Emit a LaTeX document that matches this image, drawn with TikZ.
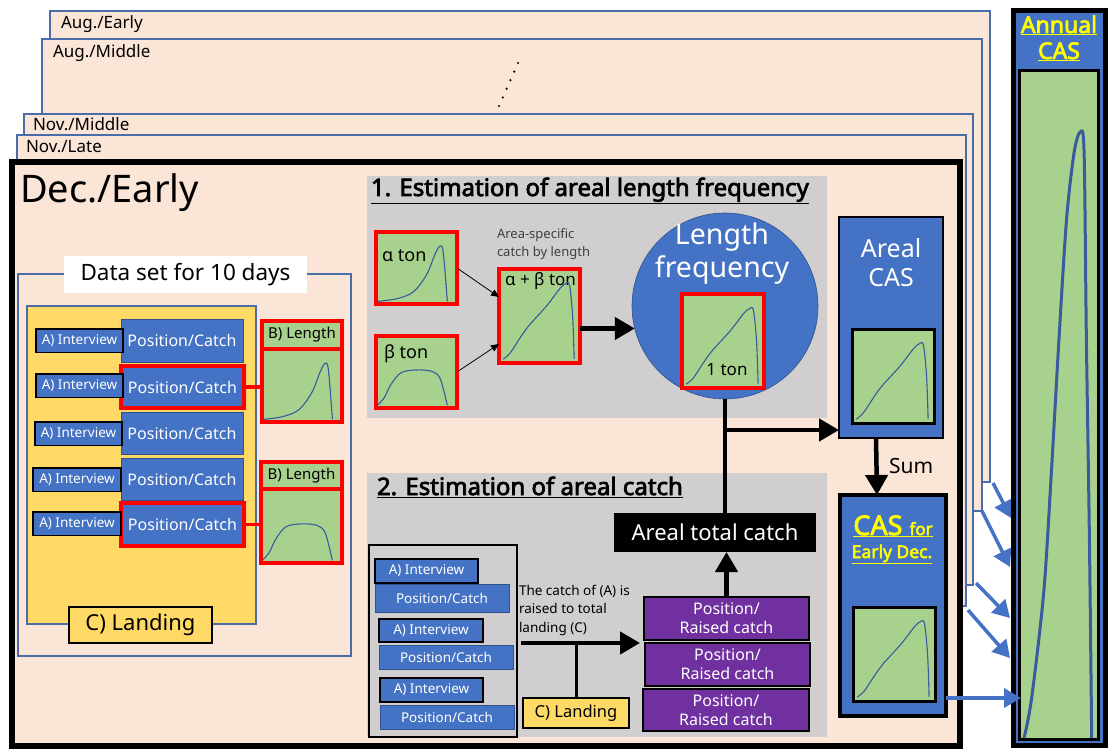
\documentclass[tikz,border=0pt]{standalone}
\usepackage{fontspec}
\setmainfont{Noto Sans}
\newfontfamily\bfam{Noto Sans}[FakeBold=3]
\usetikzlibrary{arrows.meta}
\definecolor{peach}{HTML}{FBE5D6}
\definecolor{fblue}{HTML}{4A6CA8}
\definecolor{nblue}{HTML}{4472C4}
\definecolor{dblue}{HTML}{2F528F}
\definecolor{sgray}{HTML}{D0CECE}
\definecolor{lgreen}{HTML}{A9D18E}
\definecolor{yel}{HTML}{FFD966}
\definecolor{purp}{HTML}{7030A0}
\definecolor{crvc}{HTML}{3A5A9E}
\definecolor{ytxt}{HTML}{FFFF00}
\newcommand\fsz[2]{\fontsize{#1pt}{#2pt}\selectfont}
\tikzset{
  every node/.style={inner sep=0pt,outer sep=0pt},
  wh/.style 2 args={minimum width=#1,minimum height=#2,anchor=north west},
  frame/.style={fill=peach,draw=fblue,line width=1.2pt},
  flab/.style={anchor=base west,font=\fsz{17}{20}},
  decf/.style={fill=peach,draw=black,line width=6pt},
  gbox/.style={fill=lgreen},
  redb/.style={draw=red,line width=3.5pt},
  blkb/.style={draw=black,line width=3pt},
  intv/.style={fill=nblue,draw=black,line width=1.5pt,text=white},
  pcb/.style={fill=nblue,draw=dblue,line width=1pt,text=white},
  purpb/.style={fill=purp,draw=black,line width=1.2pt,text=white,align=center,font=\fsz{16}{19}},
  crv/.style={draw=crvc,line width=1.1pt},
  thk/.style={line width=4.5pt,-{Triangle[length=20pt,width=22pt]}},
  thn/.style={line width=0.8pt,-{Triangle[length=8pt,width=7pt]}},
  barr/.style={draw=nblue,line width=3.5pt,-{Triangle[length=17pt,width=19pt]}},
  redl/.style={draw=red,line width=3.5pt},
}
% curve macros: bottom-left x, bottom-left y, width, height
\newcommand\crvskew[4]{\begin{scope}[shift={(#1,#2)},x=#3pt,y=#4pt]
 \draw[crv] plot[smooth,tension=0.55] coordinates{(0.0,0.01)(0.25,0.05)(0.46,0.15)(0.63,0.4)(0.74,0.7)(0.8,0.82)(0.84,0.78)(0.87,0.45)(0.9,0.01)};\end{scope}}
\newcommand\crvflat[4]{\begin{scope}[shift={(#1,#2)},x=#3pt,y=#4pt]
 \draw[crv] plot[smooth,tension=0.55] coordinates{(0.0,0.02)(0.08,0.12)(0.17,0.32)(0.3,0.49)(0.5,0.53)(0.7,0.51)(0.8,0.42)(0.86,0.2)(0.9,0.01)};\end{scope}}
\newcommand\crvlin[4]{\begin{scope}[shift={(#1,#2)},x=#3pt,y=#4pt]
 \draw[crv] plot[smooth,tension=0.55] coordinates{(0.03,0.02)(0.12,0.09)(0.22,0.22)(0.35,0.38)(0.59,0.61)(0.76,0.8)(0.84,0.86)(0.89,0.84)(0.93,0.5)(0.95,0.02)};\end{scope}}
\newcommand\crvann[4]{\begin{scope}[shift={(#1,#2)},x=#3pt,y=#4pt]
 \draw[draw=crvc,line width=3pt] plot[smooth,tension=0.5] coordinates{(0.04,0.0)(0.14,0.06)(0.3,0.22)(0.4,0.4)(0.5,0.6)(0.6,0.78)(0.7,0.88)(0.78,0.91)(0.83,0.88)(0.86,0.6)(0.9,0.3)(0.93,0.0)};\end{scope}}

\begin{document}
\begin{tikzpicture}[x=1pt,y=-1pt]
\useasboundingbox (0,0) rectangle (1113,754);
\fill[white] (0,0) rectangle (1113,754);
% ---- stacked frames
\node[frame,wh={940}{471}] (augE) at (50,11) {};
\node[flab] (augEl) at (61,29) {Aug./Early};
\node[frame,wh={940}{472}] (augM) at (42,39) {};
\node[flab] (augMl) at (53,58) {Aug./Middle};
\draw[line width=2.4pt,line cap=round,dash pattern=on 0pt off 9.4pt] (518,63) -- (499,106);
\node[frame,wh={949}{471}] (novM) at (24,114) {};
\node[flab] (novMl) at (33,131) {Nov./Middle};
\node[frame,wh={949}{471}] (novL) at (17,135) {};
\node[flab] (novLl) at (26,153) {Nov./Late};
\node[decf,wh={948}{584}] (dec) at (12,162) {};
\node[anchor=base west,font=\fsz{38}{44}] (decl) at (20,202) {Dec./Early};

% ---- data set panel
\node[draw=fblue,line width=1.2pt,wh={333}{382}] (ds) at (18,274) {};
\node[fill=white,wh={243}{37},font=\fsz{22.5}{26}] (dsl) at (64,256) {Data set for 10 days};
\node[fill=yel,draw=fblue,line width=1.2pt,wh={229}{318}] (yb) at (27,306) {};
\node[fill=yel,draw=black,line width=1.2pt,wh={143}{36},font=\fsz{22}{26}] (land1) at (69,607) {C) Landing};
\begin{scope}[every node/.append style={font=\fsz{16}{19}}]
\node[pcb,wh={122}{43}] (pc1) at (121,319) {Position/Catch};
\node[pcb,redb,wh={123}{42}] (pc2) at (121,366) {Position/Catch};
\node[pcb,wh={122}{42}] (pc3) at (121,412) {Position/Catch};
\node[pcb,wh={122}{42}] (pc4) at (121,458) {Position/Catch};
\node[pcb,redb,wh={123}{43}] (pc5) at (121,503) {Position/Catch};
\end{scope}
\begin{scope}[every node/.append style={font=\fsz{13.5}{16}}]
\node[intv,wh={87}{23.5}] (i1) at (36,329) {A) Interview};
\node[intv,wh={87}{23.5}] (i2) at (36,374) {A) Interview};
\node[intv,wh={87}{23.5}] (i3) at (35,422) {A) Interview};
\node[intv,wh={88}{23.5}] (i4) at (33,468) {A) Interview};
\node[intv,wh={88}{23.5}] (i5) at (33,512) {A) Interview};
\end{scope}
\node[gbox,redb,wh={80}{73}] (bl1g) at (262,349) {};
\node[gbox,redb,wh={80}{28},font=\fsz{15}{18}] (bl1h) at (262,321) {B) Length};
\node[gbox,redb,wh={81}{74}] (bl2g) at (261,489) {};
\node[gbox,redb,wh={81}{27},font=\fsz{15}{18}] (bl2h) at (261,462) {B) Length};
\crvskew{264}{420}{76}{69}
\crvflat{263}{561}{77}{70}
\draw[redl] (pc2.east) -- (pc2.east -| bl1g.west);
\draw[redl] (pc5.east) -- (pc5.east -| bl2g.west);

% ---- section 1
\node[fill=sgray,wh={460}{242}] (s1) at (367,176) {};
\node[anchor=base west,font=\bfam\fsz{24}{28}] (t1) at (371,196) {\underline{1. Estimation of areal length frequency}};
\node[gbox,redb,wh={81}{72}] (al) at (376,232) {};
\node[anchor=base west,font=\fsz{18}{21}] (alt) at (382,261) {α ton};
\node[gbox,redb,wh={81}{72}] (be) at (376,336) {};
\node[anchor=base west,font=\fsz{18}{21}] (bet) at (384,358) {β ton};
\node[gbox,redb,wh={81}{94}] (ab) at (499,269) {};
\node[anchor=base west,font=\fsz{17}{20}] (abt) at (505,285) {α + β ton};
\crvskew{378}{302}{77}{68}
\crvflat{378}{406}{77}{68}
\crvlin{501}{361}{77}{90}
\node[anchor=base west,font=\fsz{13}{16},text=black!75] (as1) at (497,238) {Area-specific};
\node[anchor=base west,font=\fsz{13}{16},text=black!75] (as2) at (497,256) {catch by length};
\draw[thn] (al.east) -- ([yshift=19pt]ab.west);
\draw[thn] (be.east) -- ([yshift=-28pt]ab.west);
\node[circle,fill=nblue,draw=dblue,line width=0.6pt,minimum size=186] (lf) at (725,306) {};
\node[anchor=base,text=white,font=\fsz{28.5}{33}] (lft1) at (722,244) {Length};
\node[anchor=base,text=white,font=\fsz{28.5}{33}] (lft2) at (722,277) {frequency};
\node[gbox,redb,wh={82}{94}] (one) at (682,294) {};
\crvlin{684}{386}{78}{90}
\node[anchor=base,font=\fsz{17}{20}] (onet) at (727,375) {1 ton};
\draw[thk] (lf.194 -| ab.east) -- (lf.194);

% ---- section 2
\node[fill=sgray,wh={460}{264}] (s2) at (367,473) {};
\node[anchor=base west,font=\bfam\fsz{24}{28}] (t2) at (377,495) {\underline{2. Estimation of areal catch}};
\node[draw=black,line width=1.2pt,wh={148}{192}] (lb) at (369,545) {};
\begin{scope}[every node/.append style={font=\fsz{13.5}{16}}]
\node[pcb,wh={134}{28}] (q1) at (375,584) {Position/Catch};
\node[pcb,wh={134}{24}] (q2) at (379,645) {Position/Catch};
\node[pcb,wh={134}{24}] (q3) at (380,705) {Position/Catch};
\node[intv,wh={103}{24}] (j1) at (375,559) {A) Interview};
\node[intv,wh={104}{23}] (j2) at (379,619) {A) Interview};
\node[intv,wh={103}{24}] (j3) at (380,678) {A) Interview};
\end{scope}
\node[anchor=base west,font=\fsz{13.5}{16}] (rt1) at (519,595) {The catch of (A) is};
\node[anchor=base west,font=\fsz{13.5}{16}] (rt2) at (519,613) {raised to total};
\node[anchor=base west,font=\fsz{13.5}{16}] (rt3) at (519,632) {landing (C)};
\node[fill=yel,draw=black,line width=1.2pt,wh={106}{30},font=\fsz{16.5}{19}] (land2) at (523,698) {C) Landing};
\node[purpb,wh={165}{43}] (p1) at (644,597) {Position/\\Raised catch};
\node[purpb,wh={165}{43}] (p2) at (645,643) {Position/\\Raised catch};
\node[purpb,wh={166}{42}] (p3) at (643,689) {Position/\\Raised catch};
\node[fill=black,text=white,wh={202}{39},font=\fsz{22}{26}] (atc) at (614,513) {Areal total catch};
\coordinate (rs) at (521,643);
\coordinate (re) at (640,643);
\draw[thk] (rs) -- (re);
\draw[line width=3pt] (land2.north) -- (land2.north |- rs);
\draw[thk] (p1.north) -- (p1.north |- atc.south);
\draw[line width=4pt] (lf.south) -- (lf.south |- atc.north);

% ---- Areal CAS and CAS for early Dec
\node[fill=nblue,draw=black,line width=1.2pt,wh={104}{221}] (acas) at (839,217) {};
\node[anchor=base,text=white,font=\fsz{25}{29}] (acast1) at (891,257) {Areal};
\node[anchor=base,text=white,font=\fsz{25}{29}] (acast2) at (891,286) {CAS};
\node[gbox,blkb,wh={82}{94}] (acg) at (852,329) {};
\crvlin{854}{421}{78}{90}
\coordinate (acin) at ([yshift=8pt]acas.south west);
\draw[thk] (lf.south |- acin) -- (acin);
\node[fill=nblue,draw=black,line width=4pt,wh={106}{221}] (cas) at (840,495) {};
\draw[thk] ([xshift=-15pt]acas.south) -- ([xshift=-16pt]cas.north);
\node[anchor=base west,font=\fsz{21}{25}] (sum) at (889,473) {Sum};
\node[anchor=base,text=ytxt,font=\bfam] (cast1) at (893,535) {\underline{\fsz{27}{30}CAS \fsz{17}{20}for}};
\node[anchor=base,text=ytxt,font=\bfam\fsz{17.5}{20}] (cast2) at (892,558) {\underline{Early Dec.}};
\node[gbox,blkb,wh={82}{94}] (casg) at (853,607) {};
\crvlin{855}{699}{78}{90}

% ---- Annual CAS
\coordinate (t1a) at (1011,518);
\coordinate (t2a) at (1010,567);
\coordinate (t3a) at (1010,618);
\coordinate (t4a) at (1010,658);
\coordinate (t5a) at (1021,698);
\draw[barr] ([shift={(3pt,-1pt)}]augE.south east) -- (t1a);
\draw[barr] (augM.south east) -- (t2a);
\draw[barr] ([shift={(3pt,2pt)}]novM.south east) -- (t3a);
\draw[barr] ([shift={(2pt,-4pt)}]novL.south east) -- (t4a);
\node[fill=nblue,draw=black,line width=5pt,wh={92}{735}] (ann) at (1013,10.5) {};
\node[gbox,draw=black,line width=3pt,wh={79}{669}] (anng) at (1019.5,70.5) {};
\crvann{1021}{738}{76}{666}
\draw[barr] ([yshift=-92.5pt]cas.east) -- (t5a);
\node[anchor=base,text=ytxt,font=\bfam\fsz{23}{26}] (annt1) at (1059,33) {\underline{Annual}};
\node[anchor=base,text=ytxt,font=\bfam\fsz{23}{26}] (annt2) at (1059,59) {\underline{CAS}};
\end{tikzpicture}
\end{document}
